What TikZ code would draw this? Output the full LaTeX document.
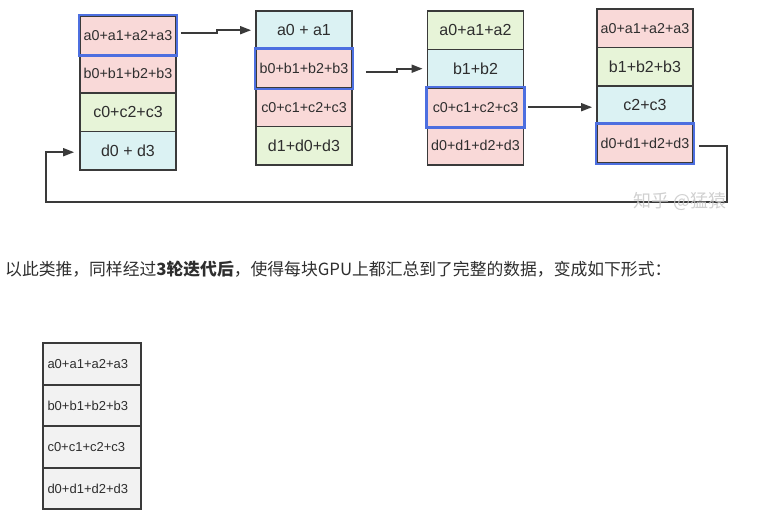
\documentclass[tikz,border=0pt]{standalone}
\usepackage{fontspec}
\setmainfont{Liberation Sans}
\newfontfamily\cjk{Noto Sans CJK SC}
\usetikzlibrary{arrows.meta}
\definecolor{cellpink}{HTML}{F9D9D8}
\definecolor{cellgreen}{HTML}{E7F4D8}
\definecolor{cellcyan}{HTML}{DBF2F3}
\definecolor{cellgray}{HTML}{F2F2F2}
\definecolor{edgegray}{HTML}{3A3A3A}
\definecolor{hotblue}{HTML}{4D6FE0}
\definecolor{textdark}{HTML}{2E2E2E}
\definecolor{markgray}{HTML}{C8C8C8}

\tikzset{
  cell/.style={draw=edgegray, line width=1.8pt, minimum width=96pt, minimum height=38.5pt,
    inner sep=0, text=textdark, font=\fontsize{16}{18}\selectfont},
  longcell/.style={cell, font=\fontsize{14.3}{16}\selectfont},
  donecell/.style={draw=edgegray, line width=1.8pt, fill=cellgray, minimum height=41.5pt,
    text width=89pt, inner xsep=4.5pt, inner ysep=0, align=left, text=textdark,
    font=\fontsize{13}{15}\selectfont},
  hot/.style={draw=hotblue, line width=2.4pt},
  link/.style={edgegray, line width=1.7pt, -{Triangle[length=11pt,width=8pt]}},
}

\begin{document}
\begin{tikzpicture}[x=1pt, y=-1pt]
\useasboundingbox (0,0) rectangle (777,530);

% ---------- GPU0 ----------
\node[longcell, fill=cellpink]  (g1a) at (128,35.2)  {a0+a1+a2+a3};
\node[longcell, fill=cellpink]  (g1b) at (128,73.7)  {b0+b1+b2+b3};
\node[cell, fill=cellgreen]     (g1c) at (128,112.2) {c0+c2+c3};
\node[cell, fill=cellcyan]      (g1d) at (128,150.7) {d0 + d3};

% ---------- GPU1 ----------
\node[cell, fill=cellcyan]      (g2a) at (304,30.2)  {a0 + a1};
\node[longcell, fill=cellpink]  (g2b) at (304,68.7)  {b0+b1+b2+b3};
\node[longcell, fill=cellpink]  (g2c) at (304,107.2) {c0+c1+c2+c3};
\node[cell, fill=cellgreen]     (g2d) at (304,145.7) {d1+d0+d3};

% ---------- GPU2 ----------
\node[cell, fill=cellgreen]     (g3a) at (475.5,30.2)  {a0+a1+a2};
\node[cell, fill=cellcyan]      (g3b) at (475.5,68.7)  {b1+b2};
\node[longcell, fill=cellpink]  (g3c) at (475.5,107.2) {c0+c1+c2+c3};
\node[longcell, fill=cellpink]  (g3d) at (475.5,145.7) {d0+d1+d2+d3};

% ---------- GPU3 ----------
\node[longcell, fill=cellpink]  (g4a) at (645,28.2)  {a0+a1+a2+a3};
\node[cell, fill=cellgreen]     (g4b) at (645,66.7)  {b1+b2+b3};
\node[cell, fill=cellcyan]      (g4c) at (645,105.2) {c2+c3};
\node[longcell, fill=cellpink]  (g4d) at (645,143.7) {d0+d1+d2+d3};

% Highlighted chunks
\draw[hot] (g1a.north west) rectangle (g1a.south east);
\draw[hot] (g2b.north west) rectangle (g2b.south east);
\draw[hot] (g3c.north west) rectangle (g3c.south east);
\draw[hot] (g4d.north west) rectangle (g4d.south east);

% Arrows
\draw[link] ([xshift=4pt,yshift=2pt]g1a.east) -- ++(36,0) |- ([xshift=-4pt]g2a.west);
\draw[link] ([xshift=13pt,yshift=-3.5pt]g2b.east) -- ++(31,0) |- ([xshift=-4pt]g3b.west);
\draw[link] ([xshift=4pt]g3c.east) -- ([xshift=-4pt]g3c.east -| g4c.west);
\coordinate (loopR) at (727,202);
\coordinate (loopL) at (46,202);
\draw[link] ([xshift=5pt,yshift=-2.5pt]g4d.east) -| (loopR) -- (loopL) |- ([xshift=-5pt,yshift=-1.5pt]g1d.west);

% Watermark
\node[text=markgray, font=\cjk\fontsize{18}{20}\selectfont, opacity=0.85] (mark) at (680,201) {知乎 @猛猿};

% ---------- Caption ----------
\node[anchor=west, inner sep=0, text=textdark, font=\cjk\fontsize{16.8}{20}\selectfont] (caption) at (5,269)
  {以此类推，同样经过\textbf{3轮迭代后}，使得每块GPU上都汇总到了完整的数据，变成如下形式：};

% ---------- Result ----------
\node[donecell] (fa) at (92,364)   {a0+a1+a2+a3};
\node[donecell] (fb) at (92,405.5) {b0+b1+b2+b3};
\node[donecell] (fc) at (92,447)   {c0+c1+c2+c3};
\node[donecell] (fd) at (92,488.5) {d0+d1+d2+d3};

\end{tikzpicture}
\end{document}
